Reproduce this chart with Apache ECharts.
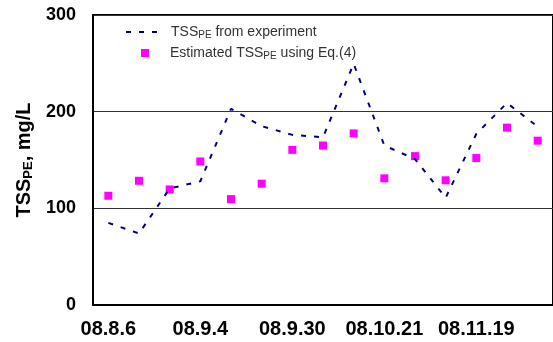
<!DOCTYPE html>
<html>
<head>
<meta charset="utf-8">
<script src="https://cdn.jsdelivr.net/npm/echarts@6/dist/echarts.min.js"></script>
<style>
  html, body { margin: 0; padding: 0; background: #fff; }
  #chart { width: 553px; height: 342px; }
</style>
</head>
<body>
<div id="chart"></div>
<script>
// sampling dates (only every third one is labelled)
const dates = ['08.8.6', '', '', '08.9.4', '', '', '08.9.30', '', '', '08.10.21', '', '', '08.11.19', '', '']

// TSS_PE from experiment (mg/L)
const measured = [85, 74, 120.5, 128, 203, 185, 176, 173.5, 249.5, 165, 151, 111, 177, 209, 184.5]

// TSS_PE estimated with Eq.(4) (mg/L)
const estimated = [113, 128.5, 119.5, 148.5, 109.5, 125.5, 160.5, 165, 177.5, 131, 154, 129, 152, 183.5, 170]

const yTicks = [0, 100, 200, 300]

const chart = echarts.init(document.getElementById('chart'))

const legendRich = {
  sp: { width: 8 },
  sp2: { width: 16 },
  t: { fontSize: 14, lineHeight: 16, color: '#333', fontFamily: 'Liberation Sans' },
  s: { fontSize: 10, lineHeight: 10, verticalAlign: 'bottom', color: '#333', fontFamily: 'Liberation Sans' }
}

chart.setOption({
  animation: false,
  grid: {
    left: 93, top: 15, width: 462, height: 290,
    show: true, borderColor: '#000', borderWidth: 2
  },
  legend: [
    {
      data: ['measured'],
      orient: 'vertical',
      left: 125, top: 25, padding: 0,
      itemWidth: 32, itemHeight: 10,
      itemStyle: { opacity: 0 },
      formatter: () => '{sp|}{t|TSS}{s|PE}{t| from experiment}',
      textStyle: { rich: legendRich }
    },
    {
      data: ['estimated'],
      orient: 'vertical',
      left: 141, top: 46, padding: 0,
      itemWidth: 8, itemHeight: 8,
      formatter: () => '{sp2|}{t|Estimated TSS}{s|PE}{t| using Eq.(4)}',
      textStyle: { rich: legendRich }
    }
  ],
  xAxis: {
    type: 'category',
    data: dates,
    boundaryGap: true,
    axisLine: { lineStyle: { color: '#000', width: 2 } },
    axisTick: { inside: true, length: 7, interval: 0, lineStyle: { color: '#000', width: 1 } },
    axisLabel: {
      interval: 0, margin: 14,
      fontSize: 20, fontWeight: 'bold', color: '#000', fontFamily: 'Liberation Sans'
    },
    splitLine: { show: false }
  },
  yAxis: {
    type: 'value',
    min: yTicks[0], max: yTicks[yTicks.length - 1], interval: 100,
    axisLine: { show: true, lineStyle: { color: '#000', width: 2 } },
    axisTick: { show: false },
    axisLabel: {
      margin: 17, fontSize: 18, fontWeight: 'bold', color: '#000', fontFamily: 'Liberation Sans'
    },
    splitLine: { lineStyle: { color: '#333', width: 1 } },
    name: '{t|TSS}{s|PE}{t|, mg/L}',
    nameLocation: 'middle',
    nameGap: 58,
    nameTextStyle: {
      rich: {
        t: { fontSize: 20, lineHeight: 22, fontWeight: 'bold', color: '#000', fontFamily: 'Liberation Sans' },
        s: { fontSize: 13, lineHeight: 13, fontWeight: 'bold', verticalAlign: 'bottom', color: '#000', fontFamily: 'Liberation Sans' }
      }
    }
  },
  series: [
    {
      name: 'measured',
      type: 'line',
      data: measured,
      symbol: 'none',
      lineStyle: { color: '#000080', width: 2, type: [5, 8] },
      itemStyle: { color: '#000080' }
    },
    {
      name: 'estimated',
      type: 'scatter',
      data: estimated,
      symbol: 'rect',
      symbolSize: 8,
      itemStyle: { color: '#ff00ff', opacity: 1 }
    }
  ]
})
</script>
</body>
</html>
